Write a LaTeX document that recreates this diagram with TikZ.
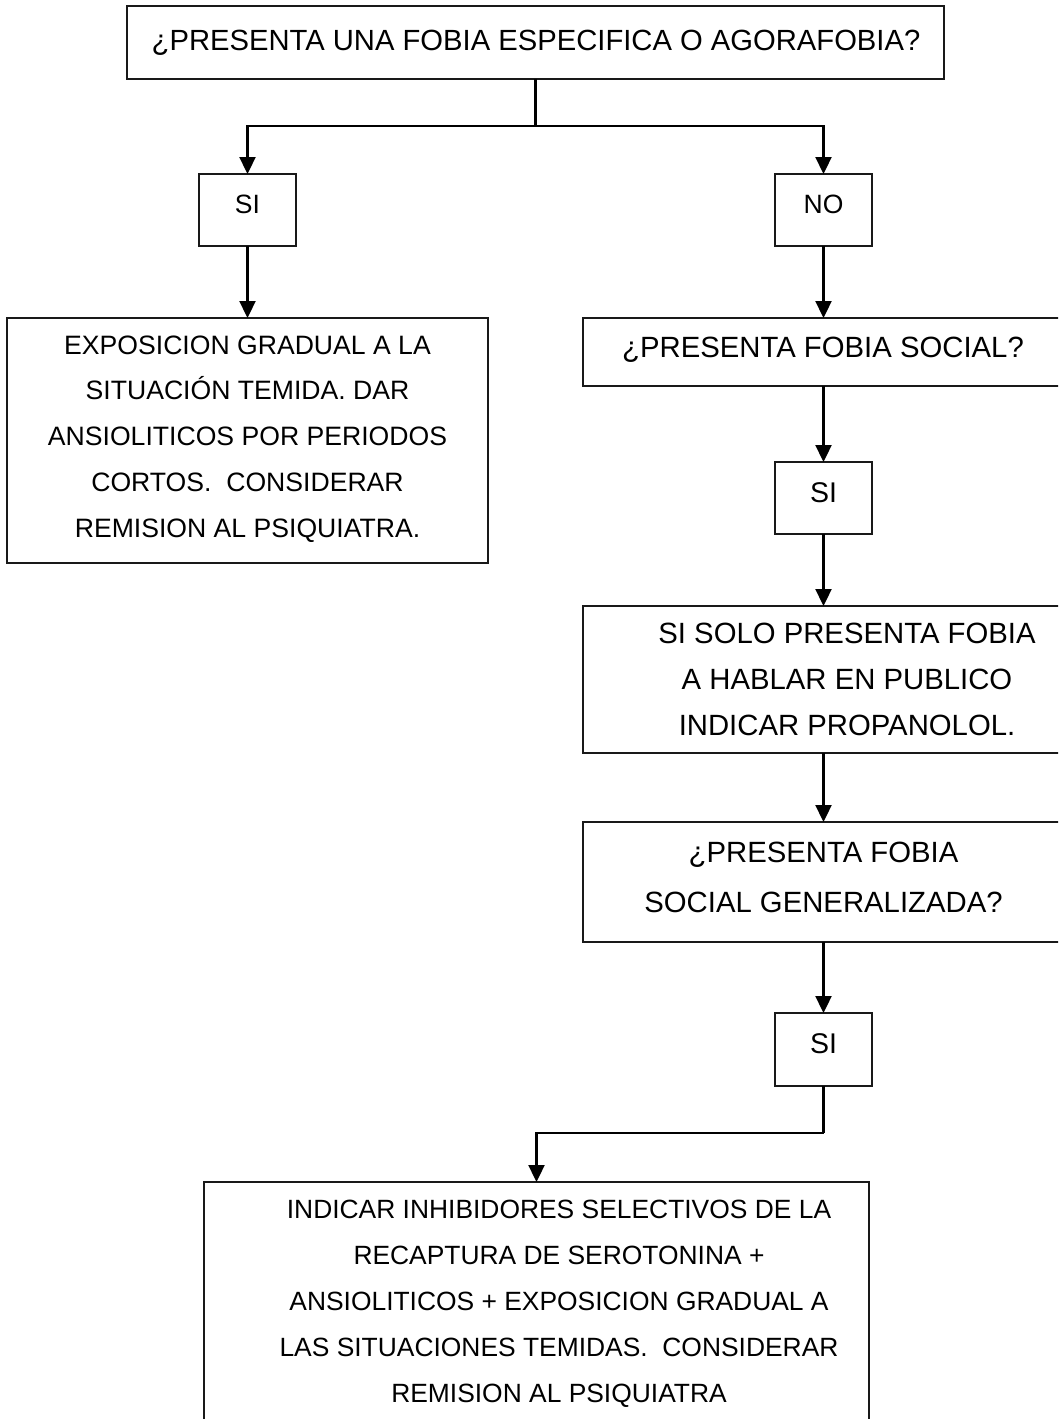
\documentclass[tikz,border=0pt]{standalone}
\usepackage{fontspec}
\setmainfont{Liberation Sans}
\usetikzlibrary{arrows.meta}
\begin{document}
\begin{tikzpicture}[x=1pt,y=1pt,
  box/.style={draw=black!90, line width=2.3pt, rectangle, inner sep=0pt, outer sep=0pt, anchor=north west},
  conn/.style={line width=2.3pt},
  arr/.style={conn, -{Triangle[length=17pt,width=16pt]}},
  txt/.style={inner sep=0pt, outer sep=0pt, anchor=base, align=center}
]
\useasboundingbox (0,0) rectangle (1058,-1419);
\clip (0,0) rectangle (1058,-1419);

% boxes
\node[box, minimum width=817pt, minimum height=73pt] (top) at (127,-6) {};
\node[box, minimum width=97pt, minimum height=72pt] (si1) at (199,-174) {};
\node[box, minimum width=97pt, minimum height=72pt] (no) at (775,-174) {};
\node[box, minimum width=481pt, minimum height=245pt] (left) at (7,-318) {};
\node[box, minimum width=480pt, minimum height=68pt] (rb1) at (583,-318) {};
\node[box, minimum width=97pt, minimum height=72pt] (si2) at (775,-462) {};
\node[box, minimum width=480pt, minimum height=147pt] (rb2) at (583,-606) {};
\node[box, minimum width=480pt, minimum height=120pt] (rb3) at (583,-822) {};
\node[box, minimum width=97pt, minimum height=73pt] (si3) at (775,-1013) {};
\node[box, minimum width=665pt, minimum height=260pt] (bot) at (204,-1182) {};

% texts (base anchor = baseline of the last line)
\node[txt, font=\fontsize{29.2}{46}\selectfont] (topT) at (536,-50) {¿PRESENTA UNA FOBIA ESPECIFICA O AGORAFOBIA?};
\node[txt, font=\fontsize{26.5}{46}\selectfont] (si1T) at (247.5,-213) {SI};
\node[txt, font=\fontsize{26.5}{46}\selectfont] (noT) at (823.5,-213) {NO};
\node[txt, font=\fontsize{26.6}{45.75}\selectfont] (leftT) at (247.5,-537)
  {EXPOSICION GRADUAL A LA\\SITUACIÓN TEMIDA. DAR\\ANSIOLITICOS POR PERIODOS\\CORTOS.\ \ CONSIDERAR\\REMISION AL PSIQUIATRA.};
\node[txt, font=\fontsize{29.3}{46}\selectfont] (rb1T) at (823,-357) {¿PRESENTA FOBIA SOCIAL?};
\node[txt, font=\fontsize{28.5}{46}\selectfont] (si2T) at (823.5,-502) {SI};
\node[txt, font=\fontsize{29.3}{46}\selectfont] (rb2T) at (847,-735)
  {SI SOLO PRESENTA FOBIA\\A HABLAR EN PUBLICO\\INDICAR PROPANOLOL.};
\node[txt, font=\fontsize{29.3}{50}\selectfont] (rb3T) at (823.5,-912)
  {¿PRESENTA FOBIA\\SOCIAL GENERALIZADA?};
\node[txt, font=\fontsize{28.5}{46}\selectfont] (si3T) at (823.5,-1053) {SI};
\node[txt, font=\fontsize{26.4}{46}\selectfont] (botT) at (559,-1402)
  {INDICAR INHIBIDORES SELECTIVOS DE LA\\RECAPTURA DE SEROTONINA +\\ANSIOLITICOS + EXPOSICION GRADUAL A\\LAS SITUACIONES TEMIDAS.\ \ CONSIDERAR\\REMISION AL PSIQUIATRA};

% connectors
\draw[conn] (top.south) -- ++(0,-47) coordinate (j1);
\draw[arr] (j1) -| (si1.north);
\draw[arr] (j1) -| (no.north);
\draw[arr] (si1.south) -- (left.north);
\draw[arr] (no.south) -- (no.south |- rb1.north);
\draw[arr] (rb1.south -| si2.north) -- (si2.north);
\draw[arr] (si2.south) -- (si2.south |- rb2.north);
\draw[arr] (rb2.south -| si2.south) -- (si2.south |- rb3.north);
\draw[arr] (rb3.south -| si3.north) -- (si3.north);
\draw[conn] (si3.south) -- ++(0,-47) coordinate (j2);
\draw[arr] (j2) -| (bot.north);
\end{tikzpicture}
\end{document}
